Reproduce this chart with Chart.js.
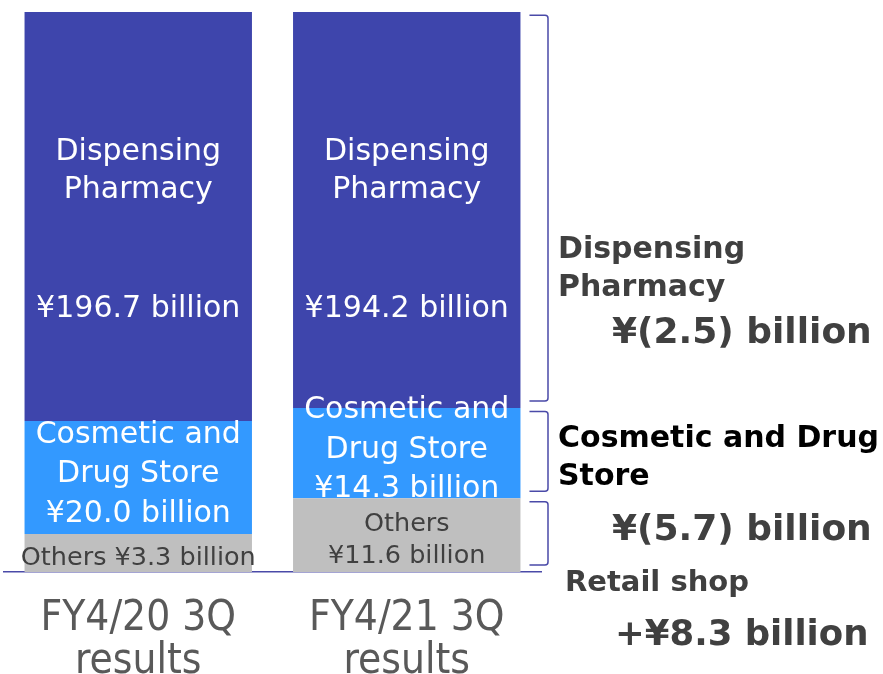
<!DOCTYPE html>
<html>
<head>
<meta charset="utf-8">
<script src="https://cdn.jsdelivr.net/npm/chart.js@4.4.1/dist/chart.umd.min.js"></script>
<style>
  html, body { margin: 0; padding: 0; background: #fff; }
</style>
</head>
<body>
<canvas id="chart" width="883" height="674"></canvas>
<script>
const periods = [["FY4/20 3Q", "results"], ["FY4/21 3Q", "results"]];

// amounts printed on the slide, ¥ billion
const pharmacyAmt = [196.7, 194.2];
const cosmeticAmt = [20.0, 14.3];
const othersAmt = [3.3, 11.6];

// segment heights as the slide draws them (the slide is not to scale)
const pharmacyDrawn = [160.7, 155.7];
const cosmeticDrawn = [44.4, 35.4];
const othersDrawn = [14.9, 29.0];
const yMax = 220;

// year-on-year change per business, ¥ billion
const changePharmacy = -2.5;
const changeCosmetic = -5.7;
const changeRetail = 8.3;

const COL = {
    pharmacy: "#3e45ac",
    cosmetic: "#3399ff",
    others:   "#bfbfbf",
    line:     "#4a4aa8",
    text:     "#404040",
    tick:     "#595959",
};
const FONT = "'DejaVu Sans', Verdana, sans-serif";

function yen(v) {
    return "\u00a5" + v.toFixed(1) + " billion";
}
function change(v) {
    if (v < 0) return "\u00a5(" + Math.abs(v).toFixed(1) + ") billion";
    return "+\u00a5" + v.toFixed(1) + " billion";
}

function segmentLines(key, i) {
    if (key === "pharmacy") return { top: ["Dispensing", "Pharmacy"], value: yen(pharmacyAmt[i]) };
    if (key === "cosmetic") return { block: ["Cosmetic and", "Drug Store", yen(cosmeticAmt[i])] };
    if (othersDrawn[i] < 20) return { block: ["Others " + yen(othersAmt[i])], small: true };
    return { block: ["Others", yen(othersAmt[i])], small: true };
}

const keys = ["others", "cosmetic", "pharmacy"];

// text inside the bars
const segmentLabels = {
    id: "segmentLabels",
    afterDatasetsDraw(chart) {
        const ctx = chart.ctx;
        ctx.save();
        ctx.textAlign = "center";
        ctx.textBaseline = "middle";
        keys.forEach((key, di) => {
            const meta = chart.getDatasetMeta(di);
            meta.data.forEach((el, i) => {
                const top = el.y, bottom = el.base, x = el.x;
                const mid = (top + bottom) / 2;
                const lab = segmentLines(key, i);
                if (lab.top) {
                    ctx.fillStyle = "#fff";
                    ctx.font = "30px " + FONT;
                    ctx.fillText(lab.top[0], x, top + 140);
                    ctx.fillText(lab.top[1], x, top + 178);
                    ctx.fillText(lab.value, x, top + 297);
                } else if (lab.small) {
                    ctx.fillStyle = COL.text;
                    ctx.font = "25.5px " + FONT;
                    const lh = 32;
                    const y0 = mid - (lab.block.length - 1) * lh / 2;
                    lab.block.forEach((t, k) => ctx.fillText(t, x, y0 + k * lh + 5));
                } else {
                    ctx.fillStyle = "#fff";
                    ctx.font = "30px " + FONT;
                    const lh = 39.5;
                    const y0 = mid - 3 - lh;
                    lab.block.forEach((t, k) => ctx.fillText(t, x, y0 + k * lh));
                }
            });
        });
        ctx.restore();
    }
};

// brackets beside the second bar plus the change notes
const brackets = {
    id: "brackets",
    afterDraw(chart) {
        const ctx = chart.ctx;
        const bx = chart.chartArea.right + 7;
        ctx.save();
        ctx.strokeStyle = COL.line;
        ctx.lineWidth = 1.5;
        keys.forEach((key, di) => {
            const el = chart.getDatasetMeta(di).data[1];
            const left = el.x + el.width / 2 + 9;
            const t = el.y + 3.5, b = el.base - 7;
            ctx.beginPath();
            ctx.moveTo(left, t);
            ctx.arcTo(bx, t, bx, b, 3);
            ctx.arcTo(bx, b, left, b, 3);
            ctx.lineTo(left, b);
            ctx.stroke();
        });

        ctx.textAlign = "left";
        ctx.textBaseline = "alphabetic";
        const notes = [
            ["Dispensing", 558, 258, 30, COL.text],
            ["Pharmacy", 558, 296, 30, COL.text],
            [change(changePharmacy), 612, 343, 36, COL.text],
            ["Cosmetic and Drug", 558, 447, 30, "#000"],
            ["Store", 558, 485, 30, "#000"],
            [change(changeCosmetic), 612, 540, 36, COL.text],
            ["Retail shop", 565, 591, 29, COL.text],
            [change(changeRetail), 615, 645, 35.5, COL.text],
        ];
        notes.forEach(([txt, x, y, size, color]) => {
            ctx.font = "bold " + size + "px " + FONT;
            ctx.fillStyle = color;
            ctx.fillText(txt, x, y);
        });
        ctx.restore();
    }
};

new Chart(document.getElementById("chart"), {
    type: "bar",
    data: {
        labels: periods,
        datasets: [
            { data: othersDrawn, backgroundColor: COL.others },
            { data: cosmeticDrawn, backgroundColor: COL.cosmetic },
            { data: pharmacyDrawn, backgroundColor: COL.pharmacy },
        ]
    },
    options: {
        responsive: false,
        devicePixelRatio: 1,
        animation: false,
        datasets: { bar: { barPercentage: 1, categoryPercentage: 0.847, borderWidth: 0 } },
        layout: { padding: { left: 4, right: 342, top: 12, bottom: 0 } },
        plugins: { legend: { display: false }, tooltip: { enabled: false } },
        scales: {
            x: {
                stacked: true,
                grid: { display: false, drawTicks: false },
                border: { display: true, color: COL.line, width: 1.5 },
                ticks: {
                    color: COL.tick,
                    padding: 25,
                    font: { family: "'DejaVu Sans Condensed', 'DejaVu Sans', sans-serif", size: 42, lineHeight: 1.04 },
                    maxRotation: 0,
                },
                afterFit: s => { s.height = 102; }
            },
            y: {
                stacked: true,
                display: false,
                min: 0,
                max: yMax,
            }
        }
    },
    plugins: [segmentLabels, brackets]
});
</script>
</body>
</html>
